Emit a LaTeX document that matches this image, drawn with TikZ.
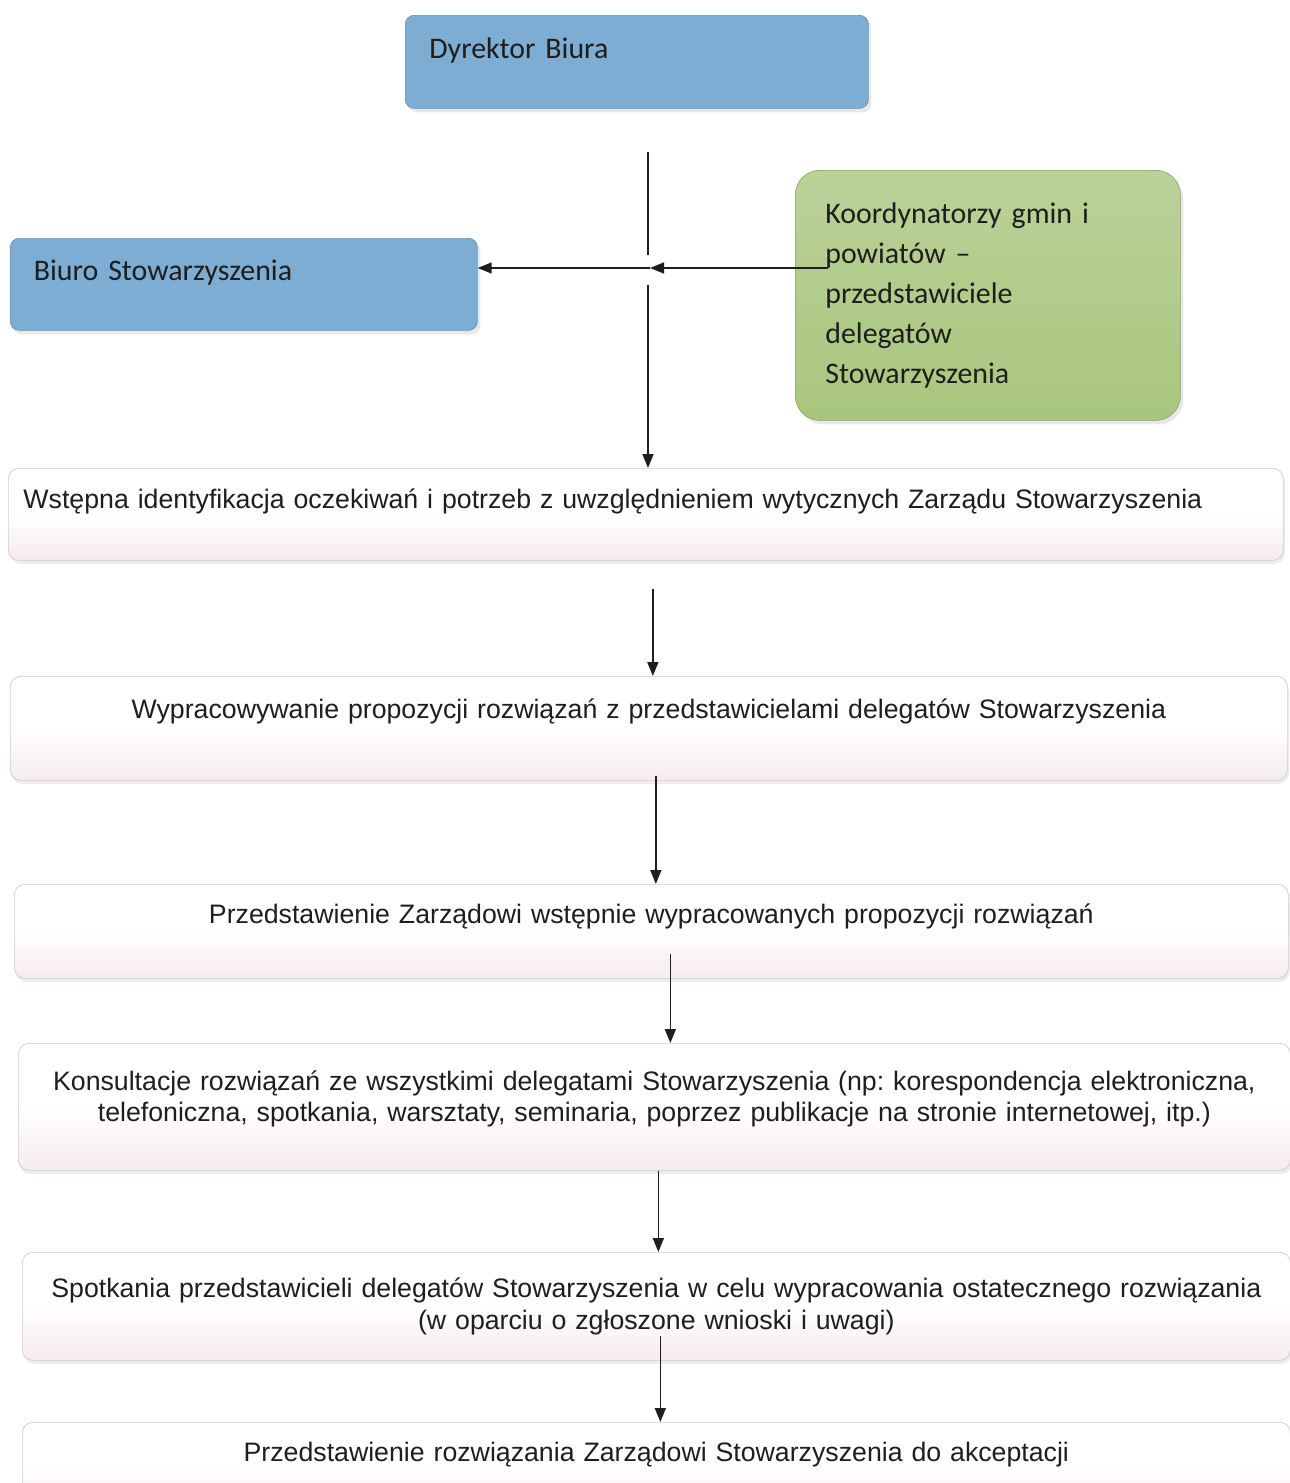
\documentclass[tikz,border=0pt]{standalone}
\usepackage{fontspec}
\setmainfont{Liberation Sans}
\newfontfamily\boxfont{Carlito}
\usetikzlibrary{arrows.meta,positioning,calc,shadows}
\definecolor{biurblue}{HTML}{7DADD2}
\definecolor{koordgreen}{HTML}{A9C67E}
\definecolor{steppink}{HTML}{F5EBEE}
\definecolor{inkgray}{HTML}{1E1E1E}
\frenchspacing

\begin{document}
\begin{tikzpicture}[
    font=\fontsize{15.2}{18}\selectfont,
    >={Triangle[length=2.8mm,width=2.2mm]},
    unitbox/.style={draw=biurblue!85!black, fill=biurblue, rounded corners=5pt, inner sep=0pt, align=left,
        font=\boxfont\fontsize{17}{20}\selectfont, text=inkgray,
        drop shadow={shadow xshift=0.6mm, shadow yshift=-0.8mm, fill=gray!35}},
    koordbox/.style={unitbox, draw=koordgreen!85!black, top color=koordgreen!80!white, bottom color=koordgreen, rounded corners=14pt},
    stepbox/.style={draw=gray!40, top color=white, bottom color=steppink, middle color=white, rounded corners=6pt,
        inner sep=0pt, align=center, text=inkgray,
        drop shadow={shadow xshift=0.3mm, shadow yshift=-0.7mm, fill=gray!30}},
    arrow/.style={inkgray, ->, line width=0.9pt},
    link/.style={inkgray, line width=0.9pt},
]
    \useasboundingbox (0,0) rectangle (25.8,-29.66);

    % =====================================================================
    % TOP: units
    % =====================================================================
    \node[unitbox, anchor=north west, minimum width=9.26cm, text width=8.3cm, inner xsep=0.46cm,
        text height=0.86cm, text depth=1.0cm] (dyrektor) at (8.1, -0.3) {Dyrektor Biura};
    \node[unitbox, anchor=north west, minimum width=9.34cm, text width=8.4cm, inner xsep=0.46cm,
        text height=0.84cm, text depth=1.0cm] (biuro) at (0.2, -4.76) {Biuro Stowarzyszenia};
    \node[koordbox, anchor=north west, minimum width=7.4cm, minimum height=5.0cm, text width=6.5cm, inner xsep=0.6cm,
        font=\boxfont\fontsize{17}{22.7}\selectfont] (koord) at (15.9, -3.4)
        {Koordynatorzy gmin i\\powiatów –\\przedstawiciele\\delegatów\\Stowarzyszenia};

    % =====================================================================
    % PROCESS STEPS
    % =====================================================================
    \node[stepbox, anchor=north west, minimum width=25.5cm, text width=24.6cm, text height=0.8cm, text depth=1.04cm] (step1) at (0.16, -9.36)
        {\hspace*{-1.32cm}Wstępna identyfikacja oczekiwań i potrzeb z uwzględnieniem wytycznych Zarządu Stowarzyszenia};
    \node[stepbox, anchor=north west, minimum width=25.54cm, text width=24.6cm, text height=0.84cm, text depth=1.24cm] (step2) at (0.2, -13.52)
        {Wypracowywanie propozycji rozwiązań z przedstawicielami delegatów Stowarzyszenia};
    \node[stepbox, anchor=north west, minimum width=25.48cm, text width=24.6cm, text height=0.78cm, text depth=1.1cm] (step3) at (0.28, -17.68)
        {Przedstawienie Zarządowi wstępnie wypracowanych propozycji rozwiązań};
    \node[stepbox, anchor=north west, minimum width=25.44cm, minimum height=2.54cm, text width=24.6cm] (step4) at (0.36, -20.86)
        {Konsultacje rozwiązań ze wszystkimi delegatami Stowarzyszenia (np: korespondencja elektroniczna,\\
         telefoniczna, spotkania, warsztaty, seminaria, poprzez publikacje na stronie internetowej, itp.)\\[-0.2cm]\mbox{}};
    \node[stepbox, anchor=north west, minimum width=25.36cm, minimum height=2.16cm, text width=24.6cm] (step5) at (0.44, -25.04)
        {Spotkania przedstawicieli delegatów Stowarzyszenia w celu wypracowania ostatecznego rozwiązania\\
         (w oparciu o zgłoszone wnioski i uwagi)};
    \node[stepbox, anchor=north west, minimum width=25.36cm, text width=24.6cm, text height=0.78cm, text depth=1.0cm] (step6) at (0.44, -28.44)
        {Przedstawienie rozwiązania Zarządowi Stowarzyszenia do akceptacji};

    % =====================================================================
    % CONNECTORS
    % =====================================================================
    \coordinate (dtail) at (12.96, -3.04);
    \coordinate (jabove) at (12.96, -5.10);
    \coordinate (junction) at (13.0, -5.36);
    \coordinate (jbelow) at (12.96, -5.70);
    \coordinate (kstart) at (16.56, -5.36);

    \draw[link] (dtail) -- (jabove);
    \draw[arrow] (jbelow) -- (jbelow |- step1.north);
    \draw[arrow] (kstart) -- (junction);
    \draw[arrow] (junction) -- (junction -| biuro.east);

    \draw[arrow] ([xshift=1.4mm, yshift=-5.6mm]step1.south) -- ([xshift=1.4mm]step1.south |- step2.north);
    \draw[arrow] ([xshift=1.4mm, yshift=1mm]step2.south) -- ([xshift=1.4mm]step2.south |- step3.north);
    \draw[arrow] ([xshift=3.8mm, yshift=5mm]step3.south) -- ([xshift=3.8mm]step3.south |- step4.north);
    \draw[arrow] ([xshift=0.8mm]step4.south) -- ([xshift=0.8mm]step4.south |- step5.north);
    \draw[arrow] ([xshift=0.8mm, yshift=5mm]step5.south) -- ([xshift=0.8mm]step5.south |- step6.north);
\end{tikzpicture}
\end{document}
